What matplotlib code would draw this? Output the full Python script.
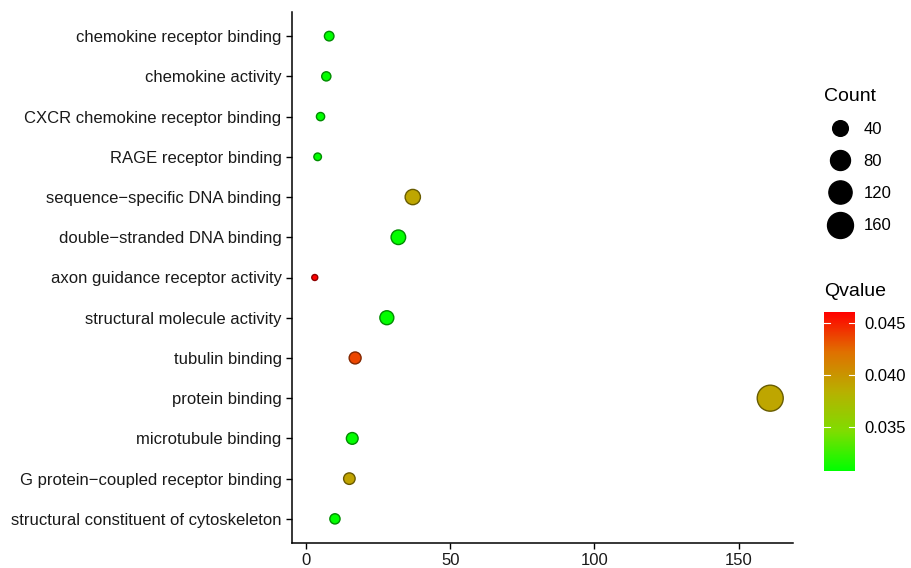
import numpy as np
import matplotlib
matplotlib.use("Agg")
import matplotlib.pyplot as plt
from matplotlib.colors import LinearSegmentedColormap, Normalize
from matplotlib.lines import Line2D

plt.rcParams['font.family'] = ['Liberation Sans', 'DejaVu Sans']

terms = [
    "chemokine receptor binding",
    "chemokine activity",
    "CXCR chemokine receptor binding",
    "RAGE receptor binding",
    "sequence\u2212specific DNA binding",
    "double\u2212stranded DNA binding",
    "axon guidance receptor activity",
    "structural molecule activity",
    "tubulin binding",
    "protein binding",
    "microtubule binding",
    "G protein\u2212coupled receptor binding",
    "structural constituent of cytoskeleton",
]
counts = [8, 7, 5, 4, 37, 32, 3, 28, 17, 161, 16, 15, 10]
qvalues = [0.0308, 0.0309, 0.0308, 0.0309, 0.0390, 0.0309, 0.0461,
           0.0309, 0.0437, 0.0390, 0.0309, 0.0392, 0.0309]
size_breaks = [40, 80, 120, 160]
q_ticks = [0.035, 0.040, 0.045]

# green -> red, roughly like ggplot's Lab interpolation
cmap = LinearSegmentedColormap.from_list(
    "gr", ["#00FF00", "#7FDD00", "#B8B000", "#E07000", "#FF0000"])
norm = Normalize(vmin=min(qvalues), vmax=max(qvalues))

cmin, cmax = min(counts), max(counts)


def diam_px(c):
    # area-style size scale, diameter in pixels
    return 6 + 20 * np.sqrt((np.asarray(c) - cmin) / (cmax - cmin))


def area_pt(c):
    return (diam_px(c) * 0.72) ** 2


fig = plt.figure(figsize=(9.11, 5.68), dpi=100)
ax = fig.add_axes([292 / 911, 25 / 568, 501 / 911, 531 / 568])

y = np.arange(len(terms))[::-1]
cols = cmap(norm(qvalues))
edges = cols.copy()
edges[:, :3] *= 0.55
ax.scatter(counts, y, s=area_pt(counts), c=cols, edgecolors=edges,
           linewidths=1.0, zorder=3)

ax.set_yticks(y)
ax.set_yticklabels(terms, fontsize=12, color="#1a1a1a")
ax.set_ylim(-0.6, len(terms) - 0.4)
rng = cmax - cmin
ax.set_xlim(cmin - 0.05 * rng, cmax + 0.05 * rng)
ax.set_xticks([0, 50, 100, 150])
ax.tick_params(axis="x", labelsize=12, labelcolor="#1a1a1a", length=4, width=1)
ax.tick_params(axis="y", length=4, width=1)
for s in ["top", "right"]:
    ax.spines[s].set_visible(False)
for s in ["left", "bottom"]:
    ax.spines[s].set_linewidth(1.1)

# size legend
handles = [Line2D([], [], marker="o", linestyle="none", color="black",
                  markersize=diam_px(b) * 0.72) for b in size_breaks]
leg = fig.legend(handles, [str(b) for b in size_breaks], title="Count",
                 loc="upper left", bbox_to_anchor=(817 / 911, 1 - 81 / 568),
                 frameon=False, fontsize=12, title_fontsize=14,
                 labelspacing=1.03, handletextpad=0.4, borderaxespad=0)
leg._legend_box.align = "left"

# colour bar
cax = fig.add_axes([824 / 911, 1 - 471 / 568, 31 / 911, 159 / 568])
sm = plt.cm.ScalarMappable(norm=norm, cmap=cmap)
cb = fig.colorbar(sm, cax=cax, ticks=q_ticks)
cb.outline.set_visible(False)
cb.ax.set_yticklabels([f"{t:.3f}" for t in q_ticks])
cb.ax.tick_params(labelsize=12, length=0, pad=7)
for t in q_ticks:
    cax.plot([0, 0.18], [t, t], color="white", lw=0.8, transform=cax.get_yaxis_transform())
    cax.plot([0.82, 1], [t, t], color="white", lw=0.8, transform=cax.get_yaxis_transform())
fig.text(824 / 911, 1 - 292 / 568, "Qvalue", fontsize=14, va="center")

fig.savefig("out.png", dpi=100)
